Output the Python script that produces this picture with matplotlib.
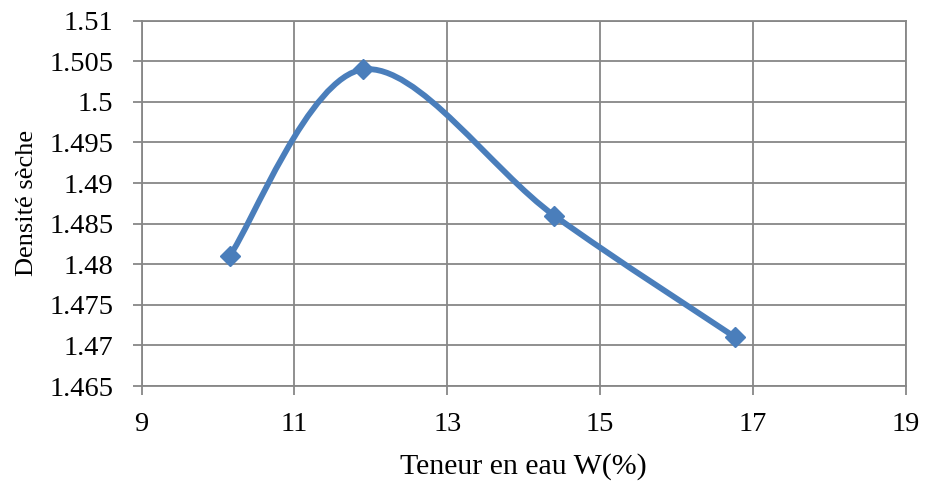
import numpy as np
import matplotlib
matplotlib.use("Agg")
import matplotlib.pyplot as plt
from matplotlib.path import Path
from matplotlib.patches import PathPatch

# Proctor test: water content vs dry density
teneur_eau = [10.15, 11.9, 14.4, 16.77]
densite_seche = [1.481, 1.504, 1.486, 1.471]

x_ticks = [9, 11, 13, 15, 17, 19]
y_ticks = [1.465, 1.47, 1.475, 1.48, 1.485, 1.49, 1.495, 1.5, 1.505, 1.51]
y_labels = ["1.465", "1.47", "1.475", "1.48", "1.485", "1.49", "1.495", "1.5", "1.505", "1.51"]

BLUE = "#4a7ebb"
GRID = "#878787"

plt.rcParams["font.family"] = ["Liberation Serif", "DejaVu Serif"]


def smooth_path(x, y):
    """Spreadsheet-style smoothed line: cubic Bezier through every point."""
    p = np.column_stack([x, y]).astype(float)
    ext = np.vstack([p[0], p, p[-1]])
    verts = [p[0]]
    codes = [Path.MOVETO]
    for i in range(len(p) - 1):
        p0, p1, p2, p3 = ext[i], ext[i + 1], ext[i + 2], ext[i + 3]
        c1 = p1 + (p2 - p0) / 6
        c2 = p2 - (p3 - p1) / 6
        verts += [c1, c2, p2]
        codes += [Path.CURVE4] * 3
    return Path(verts, codes)


fig = plt.figure(figsize=(9.26, 4.83), dpi=100)
ax = fig.add_axes([0.153, 0.2008, 0.825, 0.7563])

ax.add_patch(PathPatch(smooth_path(teneur_eau, densite_seche), fill=False,
                       edgecolor=BLUE, lw=4.2, capstyle="round", zorder=3))
ax.plot(teneur_eau, densite_seche, linestyle="none", marker="D", ms=10,
        color=BLUE, zorder=4)

ax.set_xlim(9, 19)
ax.set_ylim(1.465, 1.51)
ax.set_xticks(x_ticks)
ax.set_yticks(y_ticks)
ax.set_yticklabels(y_labels)
ax.grid(True, color=GRID, lw=1.3)
ax.set_axisbelow(True)
for s in ax.spines.values():
    s.set_color(GRID)
    s.set_linewidth(1.3)
ax.tick_params(labelsize=20.5, length=6.5, width=1.3, color=GRID)
ax.tick_params(axis="x", pad=12)
ax.tick_params(axis="y", pad=14)

ax.set_xlabel("Teneur en eau W(%)", fontsize=21.5, labelpad=12)
ax.set_ylabel("Densité sèche", fontsize=19, labelpad=8)

fig.savefig("out.png", dpi=100)
